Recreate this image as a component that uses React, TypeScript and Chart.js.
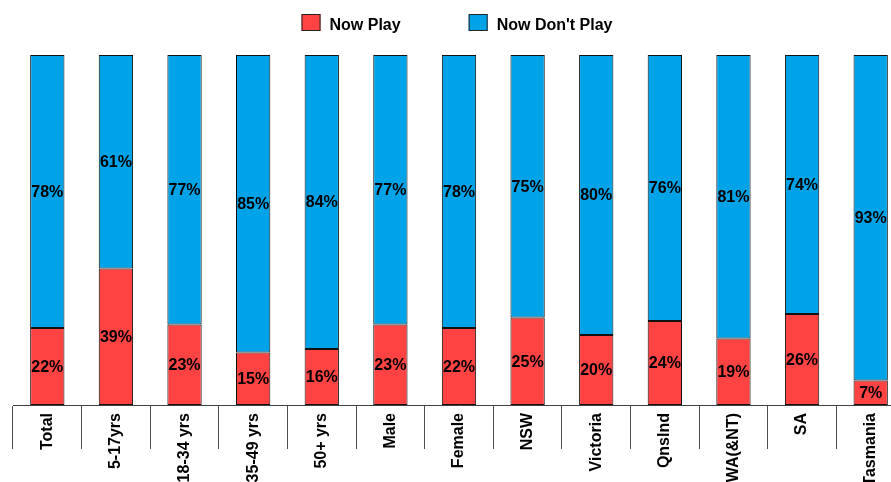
import React, { useEffect, useRef } from "react";
import { Chart, registerables } from "chart.js";

Chart.register(...registerables);

const categories = [
  "Total",
  "5-17yrs",
  "18-34 yrs",
  "35-49 yrs",
  "50+ yrs",
  "Male",
  "Female",
  "NSW",
  "Victoria",
  "Qnslnd",
  "WA(&NT)",
  "SA",
  "Tasmania",
];
const nowPlay = [22, 39, 23, 15, 16, 23, 22, 25, 20, 24, 19, 26, 7];
const nowDontPlay = [78, 61, 77, 85, 84, 77, 78, 75, 80, 76, 81, 74, 93];
const seriesLabels = ["Now Play", "Now Don't Play"];

const FONT = '"Liberation Sans", Arial, Helvetica, sans-serif';
const RED = "#FF4343";
const BLUE = "#00A2E8";

const valueLabelPlugin = {
  id: "valueLabels",
  afterDatasetsDraw(chart: any) {
    const ctx = chart.ctx;
    ctx.save();
    ctx.font = `bold 16px ${FONT}`;
    ctx.fillStyle = "#000";
    ctx.textAlign = "center";
    ctx.textBaseline = "middle";
    chart.data.datasets.forEach((ds: any, di: number) => {
      const meta = chart.getDatasetMeta(di);
      meta.data.forEach((bar: any, i: number) => {
        const v = ds.data[i];
        const p = bar.getProps(["x", "y", "base"], true);
        ctx.fillText(`${v}%`, p.x, (p.y + p.base) / 2 + 1);
      });
    });
    ctx.restore();
  },
};

const legendPlugin = {
  id: "customLegend",
  afterDraw(chart: any) {
    const ctx = chart.ctx;
    ctx.save();
    ctx.font = `bold 16px ${FONT}`;
    const boxW = 19;
    const boxH = 17;
    const textGap = 9;
    const itemGap = 68;
    const items = chart.data.datasets.map((ds: any) => ({
      label: ds.label,
      color: ds.backgroundColor,
      w: boxW + textGap + ctx.measureText(ds.label).width,
    }));
    const total =
      items.reduce((s: number, it: any) => s + it.w, 0) +
      itemGap * (items.length - 1);
    let x = chart.width / 2 + 4 - total / 2;
    const boxTop = 14;
    items.forEach((it: any) => {
      ctx.fillStyle = it.color;
      ctx.fillRect(x, boxTop, boxW, boxH);
      ctx.lineWidth = 1;
      ctx.strokeStyle = "#222";
      ctx.strokeRect(x + 0.5, boxTop + 0.5, boxW - 1, boxH - 1);
      ctx.fillStyle = "#000";
      ctx.textAlign = "left";
      ctx.textBaseline = "alphabetic";
      ctx.fillText(it.label, x + boxW + textGap, 30);
      x += it.w + itemGap;
    });
    ctx.restore();
  },
};

export default function App() {
  const ref = useRef<HTMLCanvasElement>(null);
  useEffect(() => {
    if (!ref.current) return;
    const chart = new Chart(ref.current, {
      type: "bar",
      data: {
        labels: categories,
        datasets: [
          {
            label: seriesLabels[0],
            data: nowPlay,
            backgroundColor: RED,
            borderColor: "#111",
            borderWidth: 1,
            borderSkipped: false,
            barPercentage: 0.5,
            categoryPercentage: 1,
          },
          {
            label: seriesLabels[1],
            data: nowDontPlay,
            backgroundColor: BLUE,
            borderColor: "#111",
            borderWidth: 1,
            borderSkipped: false,
            barPercentage: 0.5,
            categoryPercentage: 1,
          },
        ],
      },
      options: {
        responsive: false,
        animation: false,
        devicePixelRatio: 1,
        layout: { padding: { left: 13, right: 1, top: 55, bottom: 0 } },
        plugins: {
          legend: { display: false },
          tooltip: { enabled: false },
        },
        scales: {
          x: {
            stacked: true,
            offset: true,
            afterFit: (scale: any) => {
              scale.height = 77;
            },
            border: { display: true, color: "#404040", width: 1 },
            grid: {
              display: true,
              offset: true,
              drawOnChartArea: false,
              drawTicks: true,
              tickLength: 44,
              color: "#505050",
              lineWidth: 1,
            },
            ticks: {
              autoSkip: false,
              maxRotation: 90,
              minRotation: 90,
              padding: -36,
              color: "#000",
              font: { family: FONT, size: 16, weight: "bold" },
            },
          },
          y: {
            stacked: true,
            display: false,
            min: 0,
            max: 100,
          },
        },
      },
      plugins: [valueLabelPlugin, legendPlugin],
    });
    return () => chart.destroy();
  }, []);
  return (
    <div
      style={{
        position: "fixed",
        left: 0,
        top: 0,
        width: 891,
        height: 482,
        overflow: "hidden",
        background: "#fff",
      }}
    >
      <canvas ref={ref} width={906} height={482} style={{ display: "block" }} />
    </div>
  );
}
